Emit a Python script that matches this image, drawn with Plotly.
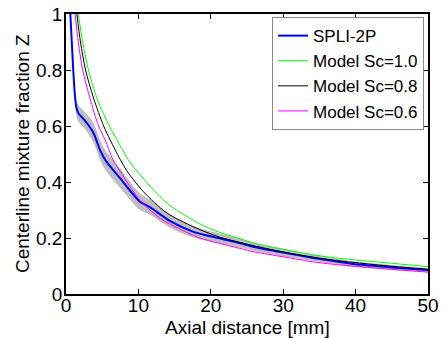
import plotly.graph_objects as go

# ---- data ----
spli_x = [0.6, 0.8, 1.0, 1.2, 1.4, 1.7, 2.6, 3.8, 4.7, 5.4, 6.5, 7.5, 8.4, 10.2, 11.6,
          14.4, 17.6, 21.0, 24.0, 26.0, 30.0, 34.4, 37.8, 40.0, 45.0, 50.0]
spli_y = [1.0, 0.9, 0.8, 0.72, 0.67, 0.646, 0.62, 0.575, 0.514, 0.48, 0.443, 0.413, 0.383,
          0.33, 0.31, 0.26, 0.222, 0.2, 0.182, 0.168, 0.148, 0.128, 0.114, 0.106, 0.095, 0.086]
spli_err = [0.015, 0.015, 0.015, 0.02, 0.025, 0.03, 0.03, 0.035, 0.035, 0.035, 0.035, 0.035, 0.032,
            0.03, 0.027, 0.023, 0.02, 0.018, 0.016, 0.014, 0.013, 0.011, 0.01, 0.01, 0.009, 0.008]

sc10_x = [1.7, 2.3, 3.1, 4.4, 6.0, 8.6, 9.3, 12.5, 14.4, 16.2, 18.5, 21.0, 24.0, 26.1, 30.0,
          34.4, 37.8, 44.0, 50.0]
sc10_y = [1.0, 0.9, 0.8, 0.69, 0.6, 0.48, 0.455, 0.36, 0.315, 0.285, 0.25, 0.222, 0.198, 0.181,
          0.16, 0.139, 0.1275, 0.112, 0.098]

sc08_x = [1.5, 2.0, 2.7, 3.8, 5.2, 6.1, 7.5, 8.4, 10.7, 13.9, 17.6, 21.0, 25.0, 30.0, 35.0,
          40.0, 45.0, 50.0]
sc08_y = [1.0, 0.9, 0.8, 0.7, 0.6, 0.55, 0.48, 0.44, 0.365, 0.29, 0.24, 0.205, 0.178, 0.15,
          0.128, 0.112, 0.099, 0.088]

sc06_x = [1.25, 1.7, 2.3, 3.3, 4.5, 5.4, 6.5, 7.5, 10.2, 13.0, 14.4, 16.7, 18.5, 21.0, 24.0,
          26.1, 30.0, 34.6, 37.8, 44.0, 50.0]
sc06_y = [1.0, 0.9, 0.8, 0.7, 0.6, 0.55, 0.479, 0.437, 0.335, 0.27, 0.249, 0.22, 0.2, 0.182,
          0.163, 0.15, 0.133, 0.113, 0.104, 0.09, 0.078]

x_ticks = [0, 10, 20, 30, 40, 50]
y_ticks = [0, 0.2, 0.4, 0.6, 0.8, 1.0]
y_tick_text = ["0", "0.2", "0.4", "0.6", "0.8", "1"]

x_title = "Axial distance [mm]"
y_title = "Centerline mixture fraction Z"

FONT = "Liberation Sans, Arial, sans-serif"
FS = 19

fig = go.Figure()

lower = [y - e for y, e in zip(spli_y, spli_err)]
upper = [y + e for y, e in zip(spli_y, spli_err)]
fig.add_trace(go.Scatter(x=spli_x, y=lower, mode="lines", line=dict(width=0, shape="spline"),
                         showlegend=False, hoverinfo="skip"))
fig.add_trace(go.Scatter(x=spli_x, y=upper, mode="lines", line=dict(width=0, shape="spline"),
                         fill="tonexty", fillcolor="rgb(190,190,190)",
                         showlegend=False, hoverinfo="skip"))

fig.add_trace(go.Scatter(x=spli_x, y=spli_y, mode="lines", name="SPLI-2P",
                         line=dict(color="#0000FF", width=2, shape="spline", smoothing=0.6)))
fig.add_trace(go.Scatter(x=sc10_x, y=sc10_y, mode="lines", name="Model Sc=1.0",
                         line=dict(color="#00FF00", width=1, shape="spline", smoothing=0.8)))
fig.add_trace(go.Scatter(x=sc08_x, y=sc08_y, mode="lines", name="Model Sc=0.8",
                         line=dict(color="#000000", width=1, shape="spline", smoothing=0.8)))
fig.add_trace(go.Scatter(x=sc06_x, y=sc06_y, mode="lines", name="Model Sc=0.6",
                         line=dict(color="#FF00FF", width=1, shape="spline", smoothing=0.8)))

axis_common = dict(showline=True, linecolor="black", linewidth=1.5, mirror="ticks",
                   ticks="inside", ticklen=5, tickwidth=1, tickcolor="black",
                   showgrid=False, zeroline=False, automargin=False,
                   tickfont=dict(family=FONT, size=FS, color="black"))

fig.update_xaxes(range=[0, 50], tickvals=x_ticks, ticktext=[str(v) for v in x_ticks],
                 ticklabelstandoff=-7, **axis_common)
fig.update_yaxes(range=[0, 1], tickvals=y_ticks, ticktext=y_tick_text,
                 ticklabelstandoff=-2, **axis_common)

fig.add_annotation(text=x_title, xref="paper", yref="paper", x=0.5, y=-0.12,
                   xanchor="center", yanchor="middle", showarrow=False,
                   font=dict(family=FONT, size=FS, color="black"))
fig.add_annotation(text=y_title, xref="paper", yref="paper", x=-0.1215, y=0.5,
                   xanchor="center", yanchor="middle", textangle=-90, showarrow=False,
                   font=dict(family=FONT, size=FS, color="black"))

fig.update_layout(
    width=445, height=338,
    margin=dict(l=66, r=17, t=14, b=44, autoexpand=False),
    paper_bgcolor="white", plot_bgcolor="white",
    font=dict(family=FONT, size=FS, color="black"),
    legend=dict(x=0.989, y=0.989, xanchor="right", yanchor="top",
                bgcolor="white", bordercolor="#888888", borderwidth=1,
                font=dict(family=FONT, size=17, color="black"),
                traceorder="normal", tracegroupgap=0, itemwidth=30),
    showlegend=True,
)

fig.write_html("out.html", config={"displayModeBar": False},
               post_script="document.body.style.margin='0';")
